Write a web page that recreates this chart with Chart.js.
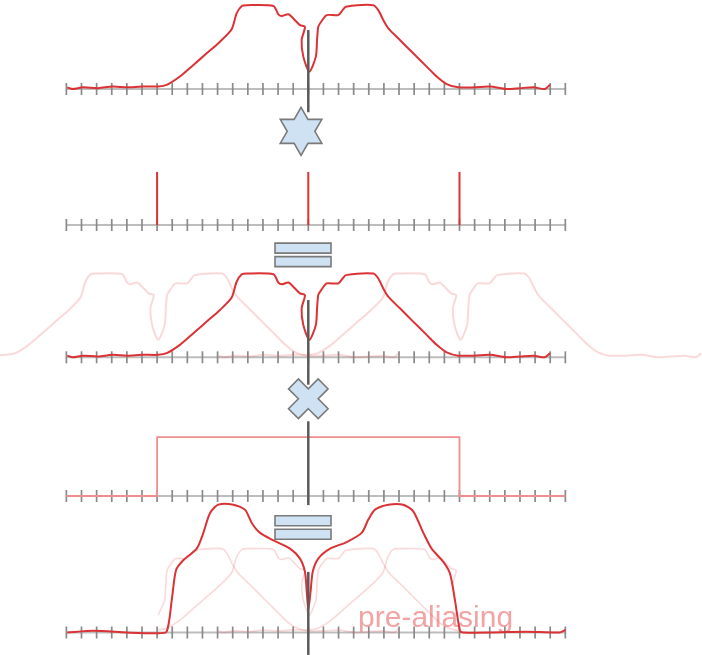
<!DOCTYPE html>
<html>
<head>
<meta charset="utf-8">
<script src="https://cdn.jsdelivr.net/npm/chart.js@4"></script>
<style>
  html, body { margin: 0; padding: 0; background: #fff; }
  #wrap { width: 702px; height: 655px; }
</style>
</head>
<body>
<div id="wrap"><canvas id="chart" width="702" height="655"></canvas></div>
<script>
// base spectrum (x in tick units, height relative to the flat top)
const specX = [-15.94, -15.6, -14.9, -13.9, -12.95, -12.0, -11.0, -9.92, -9.37, -8.49, -7.6, -6.72,
  -5.84, -5.07, -4.74, -4.4, -4.07, -2.31, -1.98, -1.76, -1.32, -0.99, -0.55, -0.22, -0.44, -0.33,
  0.07, 0.5, 0.58, 0.66, 0.85, 1.22, 1.98, 2.27, 2.49, 4.3, 4.63, 4.96, 5.29, 6.06, 6.94, 7.83,
  8.49, 9.15, 9.92, 11.0, 12.02, 13.1, 14.0, 14.9, 15.65, 15.98];
const specH = [0.02, 0.0, 0.02, 0.01, 0.03, 0.02, 0.03, 0.03, 0.05, 0.15, 0.29, 0.43,
  0.57, 0.72, 0.91, 1.0, 1.01, 1.0, 0.9, 0.88, 0.9, 0.85, 0.77, 0.75, 0.59, 0.39,
  0.21, 0.39, 0.59, 0.75, 0.81, 0.89, 0.89, 0.95, 0.99, 1.01, 0.95, 0.83, 0.73, 0.59, 0.43, 0.27,
  0.15, 0.06, 0.02, 0.02, 0.03, 0.0, 0.01, 0.02, 0.0, 0.05];

// sampling comb
const combX = [-10, 0, 10];
const combH = [0.64, 0.64, 0.64];

// copy shifts shown in panel 3 and 5
const shifts = [-10, 10];

// window
const winX = [-16, -10, -10, 10, 10, 17];
const winH = [0, 0, 0.71, 0.71, 0, 0];

// result after windowing (aliased)
const aliasX = [-15.94, -14.2, -12.0, -10.03, -9.37, -9.03, -8.75, -8.27, -7.38, -6.94, -6.5, -5.95,
  -4.96, -4.19, -3.74, -3.19, -2.31, -1.21, -0.55, -0.22, -0.11, 0.0, 0.16, 0.29, 0.66, 1.44,
  2.54, 3.53, 3.97, 4.41, 5.29, 6.28, 6.94, 7.61, 8.16, 8.93, 9.37, 9.7, 10.03, 10.25, 12.2,
  14.4, 16.6, 17.0];
const aliasH = [0.0, 0.02, 0.0, -0.01, 0.01, 0.39, 0.75, 0.87, 1.01, 1.2, 1.44, 1.54,
  1.54, 1.48, 1.32, 1.2, 1.11, 1.01, 0.89, 0.73, 0.51, 0.27, 0.51, 0.73, 0.89, 1.01,
  1.09, 1.2, 1.36, 1.48, 1.54, 1.54, 1.46, 1.2, 1.01, 0.85, 0.71, 0.39, 0.02, 0.0, 0.0,
  0.01, 0.0, 0.03];

// axis ticks
const tickMin = -16, tickMax = 17;
const ticks = [];
for (let t = tickMin; t <= tickMax; t++) ticks.push(t);

// vertical centre line per panel [top, bottom]
const centreLines = [[0.71, -0.28], null, [0.69, -0.33], [0.9, -0.11], [0.73, -0.27]];

// layout
const W = 702, H = 655;
const X0 = 308.3, TICK = 15.12, UNIT = 83;
const baselines = [89, 225, 357.3, 496, 632.5];

const RED = '#db3236';
const LIGHT = 'rgba(228, 80, 80, 0.22)';
const WIN = '#f08e8e';
const AXIS = '#bdbdbd';
const TICKC = '#8a8a8a';
const DARK = '#5a5a5a';

const pts = (xs, hs, dx = 0) => xs.map((x, i) => ({ x: x + dx, y: hs[i] }));

function line(data, panel, color, width, order) {
  return {
    data, yAxisID: 'y' + panel, showLine: true, borderColor: color, borderWidth: width,
    pointRadius: 0, tension: 0.25, order, clip: false, fill: false
  };
}

const datasets = [];
baselines.forEach((b, i) => {
  const p = i + 1;
  datasets.push(line([{ x: tickMin, y: 0 }, { x: tickMax, y: 0 }], p, AXIS, 2, 20));
  datasets.push({
    data: ticks.map(t => ({ x: t, y: 0 })), yAxisID: 'y' + p, showLine: false,
    pointStyle: 'line', rotation: 90, pointRadius: 6, borderColor: TICKC, borderWidth: 1.7,
    order: 19, clip: false
  });
  const c = centreLines[i];
  if (c) datasets.push(line([{ x: 0, y: c[0] }, { x: 0, y: c[1] }], p, DARK, 2.5, 0));
});

// panel 1
datasets.push(line(pts(specX, specH), 1, RED, 2, 2));
// panel 2
combX.forEach((x, i) => datasets.push(line([{ x, y: 0 }, { x, y: combH[i] }], 2, RED, 2, 2)));
// panel 3
shifts.forEach(s => datasets.push(line(pts(specX, specH, s), 3, LIGHT, 2, 5)));
datasets.push(line(pts(specX, specH), 3, RED, 2, 2));
// panel 4
datasets.push({ ...line(pts(winX, winH), 4, WIN, 1.8, 2), tension: 0 });
// panel 5
[-10, 0, 10].forEach(s => {
  const d = pts(specX, specH, s).filter(p => p.x >= -10 && p.x <= 10);
  datasets.push(line(d, 5, LIGHT, 1.6, 5));
});
datasets.push(line(pts(aliasX, aliasH), 5, RED, 2, 2));

const scales = {
  x: { type: 'linear', min: -X0 / TICK, max: (W - X0) / TICK, display: false }
};
baselines.forEach((b, i) => {
  scales['y' + (i + 1)] = { type: 'linear', min: (b - H) / UNIT, max: b / UNIT, display: false };
});

// operator symbols between panels
const symbols = [
  { kind: 'star', x: -0.48, y: -0.51, axis: 'y1' },
  { kind: 'equals', x: -0.35, y: -0.36, axis: 'y2' },
  { kind: 'cross', x: 0, y: -0.5, axis: 'y3' },
  { kind: 'equals', x: -0.35, y: -0.38, axis: 'y4' }
];

function drawStar(ctx, cx, cy) {
  const R = 24, r = R / Math.sqrt(3);
  ctx.beginPath();
  for (let k = 0; k < 12; k++) {
    const a = -Math.PI / 2 + k * Math.PI / 6;
    const rr = k % 2 ? r : R;
    ctx.lineTo(cx + rr * Math.cos(a), cy + rr * Math.sin(a));
  }
  ctx.closePath();
  ctx.fill(); ctx.stroke();
}

function drawEquals(ctx, cx, cy) {
  const w = 56, h = 10, gap = 3.5;
  ctx.beginPath();
  ctx.rect(cx - w / 2, cy - gap / 2 - h, w, h);
  ctx.rect(cx - w / 2, cy + gap / 2, w, h);
  ctx.fill(); ctx.stroke();
}

function drawCross(ctx, cx, cy) {
  const a = 21, t = 7;
  const poly = [[t, t], [a, t], [a, -t], [t, -t], [t, -a], [-t, -a], [-t, -t], [-a, -t],
    [-a, t], [-t, t], [-t, a], [t, a]];
  const c = Math.SQRT1_2;
  ctx.beginPath();
  poly.forEach(([px, py]) => ctx.lineTo(cx + (px - py) * c, cy + (px + py) * c));
  ctx.closePath();
  ctx.fill(); ctx.stroke();
}

const symbolsPlugin = {
  id: 'symbols',
  beforeDatasetsDraw(chart) {
    const ctx = chart.ctx;
    const x = chart.scales.x.getPixelForValue(3.29);
    const y = chart.scales.y5.getPixelForValue(0.066);
    ctx.save();
    ctx.fillStyle = '#f2a4a4';
    ctx.font = '30px "Liberation Sans", Arial, sans-serif';
    ctx.textBaseline = 'alphabetic';
    ctx.fillText('pre-aliasing', x, y);
    ctx.restore();
  },
  afterDatasetsDraw(chart) {
    const ctx = chart.ctx;
    ctx.save();
    ctx.fillStyle = '#cfe2f3';
    ctx.strokeStyle = '#7a7a7a';
    ctx.lineWidth = 1.6;
    ctx.lineJoin = 'miter';
    symbols.forEach(s => {
      const cx = chart.scales.x.getPixelForValue(s.x);
      const cy = chart.scales[s.axis].getPixelForValue(s.y);
      if (s.kind === 'star') drawStar(ctx, cx, cy);
      else if (s.kind === 'equals') drawEquals(ctx, cx, cy);
      else drawCross(ctx, cx, cy);
    });
    ctx.restore();
  }
};

new Chart(document.getElementById('chart').getContext('2d'), {
  type: 'scatter',
  data: { datasets },
  options: {
    responsive: false,
    animation: false,
    layout: { padding: 0, autoPadding: false },
    plugins: { legend: { display: false }, tooltip: { enabled: false } },
    scales
  },
  plugins: [symbolsPlugin]
});
</script>
</body>
</html>
